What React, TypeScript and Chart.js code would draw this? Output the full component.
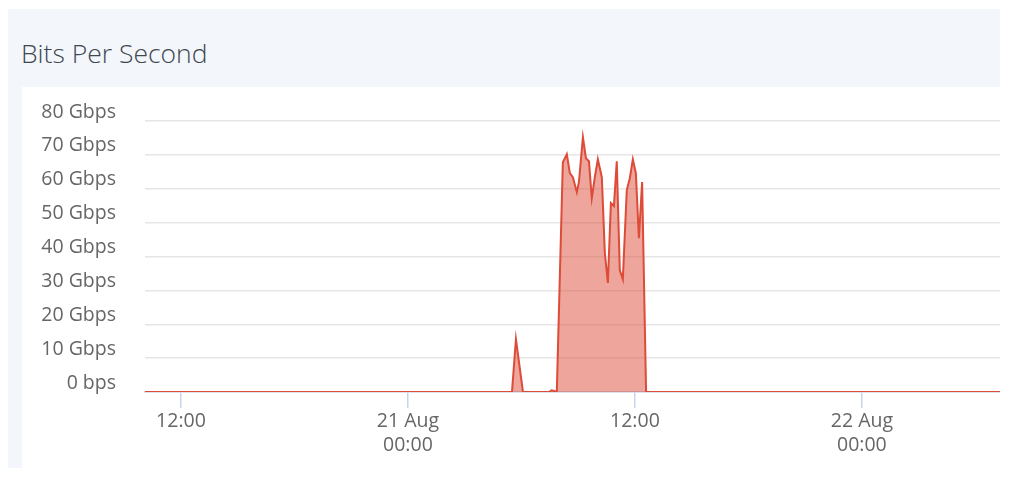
import React, { useEffect, useRef } from "react";
import { Chart, registerables } from "chart.js";

Chart.register(...registerables);

// hours since 20 Aug 00:00
const timesH = [
  10.1, 29.5, 29.71, 30.08, 31.45, 31.6, 31.72, 31.87, 32.19, 32.4, 32.56, 32.72,
  32.93, 33.04, 33.25, 33.41, 33.57, 33.72, 33.88, 34.04, 34.25, 34.41, 34.57,
  34.73, 34.89, 35.04, 35.2, 35.36, 35.57, 35.73, 35.89, 36.05, 36.21, 36.38,
  36.59, 55.3,
];
const gbps = [
  0, 0, 15.6, 0, 0, 0.5, 0.3, 0, 67.8, 70.2, 64.6, 63.4,
  59, 62, 75.2, 69, 68.1, 57.2, 63.4, 68.7, 63.4, 41, 32.2,
  55.8, 54.9, 68.1, 36, 33.3, 59.6, 63.1, 68.7, 64.6, 45.4, 62,
  0, 0,
];
const xTickHours = [12, 24, 36, 48];
const xTickLabels: (string | string[])[] = ["12:00", ["21 Aug", "00:00"], "12:00", ["22 Aug", "00:00"]];
const yTicks = [0, 10, 20, 30, 40, 50, 60, 70, 80];
const yTickLabels = ["0 bps", "10 Gbps", "20 Gbps", "30 Gbps", "40 Gbps", "50 Gbps", "60 Gbps", "70 Gbps", "80 Gbps"];

const FONT = "'Open Sans', 'DejaVu Sans', sans-serif";

export default function App() {
  const ref = useRef<HTMLCanvasElement | null>(null);
  useEffect(() => {
    if (!ref.current) return;
    const chart = new Chart(ref.current, {
      type: "line",
      data: {
        datasets: [
          {
            data: timesH.map((t, i) => ({ x: t, y: gbps[i] })),
            borderColor: "#dd4b39",
            backgroundColor: "rgba(221,75,57,0.5)",
            borderWidth: 2,
            pointRadius: 0,
            tension: 0,
            fill: "origin",
          },
        ],
      },
      options: {
        animation: false,
        responsive: false,
        maintainAspectRatio: false,
        layout: { padding: { top: 34, right: 0, left: 0, bottom: 0 } },
        plugins: { legend: { display: false }, tooltip: { enabled: false }, title: { display: false } },
        scales: {
          x: {
            type: "linear",
            min: 10.1,
            max: 55.3,
            afterBuildTicks: (s: any) => {
              s.ticks = xTickHours.map((v) => ({ value: v }));
            },
            afterFit: (s: any) => {
              s.height = 76;
              s.paddingLeft = 0;
              s.paddingRight = 0;
            },
            ticks: {
              autoSkip: false,
              maxRotation: 0,
              padding: 2,
              color: "#666",
              font: { family: FONT, size: 19.5 },
              callback: (v: any) => {
                const i = xTickHours.indexOf(Number(v));
                return i >= 0 ? xTickLabels[i] : "";
              },
            },
            grid: { drawOnChartArea: false, drawTicks: true, tickLength: 16, color: "#c9d4e8", lineWidth: 1.5 },
            border: { display: true, color: "#c9d4e8", width: 1.5 },
          },
          y: {
            type: "linear",
            min: 0,
            max: 80,
            afterBuildTicks: (s: any) => {
              s.ticks = yTicks.map((v) => ({ value: v }));
            },
            afterFit: (s: any) => {
              s.width = 123;
              s.paddingTop = 0;
              s.paddingBottom = 0;
            },
            ticks: {
              padding: 29,
              labelOffset: -9,
              color: "#666",
              font: { family: FONT, size: 19.5 },
              callback: (v: any) => {
                const i = yTicks.indexOf(Number(v));
                return i >= 0 ? yTickLabels[i] : "";
              },
            },
            grid: { drawTicks: false, color: "#e6e6e6", lineWidth: 1.5 },
            border: { display: false },
          },
        },
      },
    });
    return () => chart.destroy();
  }, []);

  return (
    <div style={{ width: 992, fontFamily: FONT }}>
      <div
        style={{
          marginTop: 1,
          height: 78,
          background: "#f3f6fa",
          display: "flex",
          alignItems: "center",
          paddingLeft: 13,
          boxSizing: "border-box",
        }}
      >
        <span style={{ fontSize: 26.5, color: "#3f4750", fontWeight: 300, marginTop: 10 }}>Bits Per Second</span>
      </div>
      <div style={{ display: "flex", height: 381 }}>
        <div style={{ width: 14, background: "#f3f6fa" }} />
        <canvas ref={ref} width={978} height={381} style={{ display: "block", width: 978, height: 381 }} />
      </div>
    </div>
  );
}
